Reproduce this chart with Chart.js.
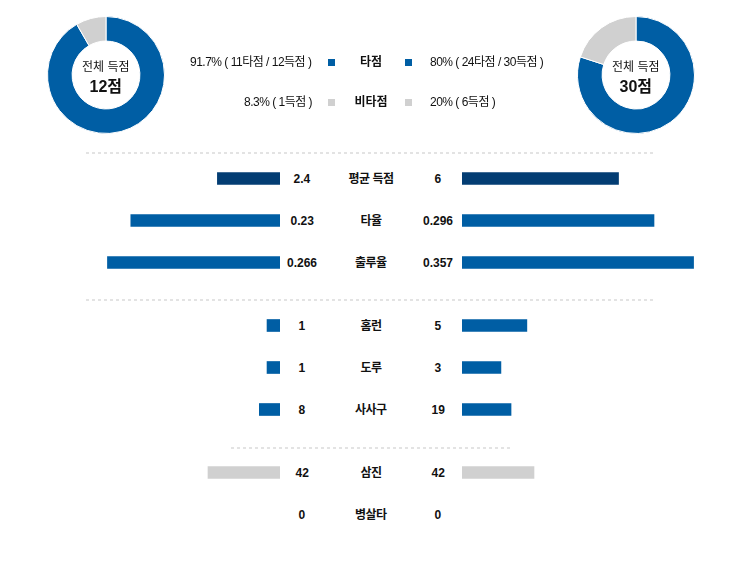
<!DOCTYPE html>
<html>
<head>
<meta charset="utf-8">
<script src="https://cdn.jsdelivr.net/npm/chart.js@4.4.1/dist/chart.umd.min.js"></script>
<style>
   body{margin:0;background:#fff;font-family:"Liberation Sans",Arial,"Noto Sans CJK KR",sans-serif;color:#111;}
   #wrap{position:relative;width:743px;height:569px;overflow:hidden;}
   .abs{position:absolute;}
   .txt{position:absolute;font-size:12px;white-space:nowrap;line-height:14px;}
   .bold{font-weight:bold;}
   .tight{letter-spacing:-0.5px;}
   .sq{position:absolute;width:7px;height:7px;}
   .dash{position:absolute;height:2px;background:repeating-linear-gradient(to right,#e3e3e3 0 3px,transparent 3px 6px);}
</style>
</head>
<body>
<div id="wrap">
   <canvas id="donutLeft" class="abs" style="left:47px;top:16px;width:118px;height:118px"></canvas>
   <canvas id="donutRight" class="abs" style="left:577px;top:16px;width:118px;height:118px"></canvas>
   <div class="abs" style="left:40px;top:168px;width:240px;height:357px"><canvas id="barsLeft"></canvas></div>
   <div class="abs" style="left:462px;top:168px;width:240px;height:357px"><canvas id="barsRight"></canvas></div>
</div>
<script>
// donut data (타점 / 비타점)
const donutLabels = ['타점', '비타점'];
const leftRuns = [11, 1];
const rightRuns = [24, 6];
const leftTotal = 12;
const rightTotal = 30;
const leftLegend = ['91.7% ( 11타점 / 12득점 )', '8.3% ( 1득점 )'];
const rightLegend = ['80% ( 24타점 / 30득점 )', '20% ( 6득점 )'];

// comparison rows
const statNames = ['평균 득점', '타율', '출루율', '홈런', '도루', '사사구', '삼진', '병살타'];
const leftValues = [2.4, 0.23, 0.266, 1, 1, 8, 42, 0];
const rightValues = [6, 0.296, 0.357, 5, 3, 19, 42, 0];
const leftLabels = ['2.4', '0.23', '0.266', '1', '1', '8', '42', '0'];
const rightLabels = ['6', '0.296', '0.357', '5', '3', '19', '42', '0'];
// each stat has its own scale max
const statMax = [9.2, 0.37, 0.37, 18.5, 18.5, 93, 140, 10];

const BLUE = '#005ea4';
const NAVY = '#033d73';
const GRAY = '#d0d0d0';
const statColors = [NAVY, BLUE, BLUE, BLUE, BLUE, BLUE, GRAY, GRAY];

// row slot on the category axis (21px per slot, blank slots between groups)
const rowSlots = [0, 2, 4, 7, 9, 11, 14, 16];
const SLOT_COUNT = 17;
const TOP = 168, SLOT_H = 21;

let wrap = document.getElementById('wrap');

function addText(text, x, y, align, cls){
   let el = document.createElement('div');
   el.className = 'txt ' + (cls || '');
   el.textContent = text;
   wrap.append(el);
   let w = el.offsetWidth;
   if(align == 'center') x = x - w / 2;
   else if(align == 'right') x = x - w;
   el.style.left = x + 'px';
   el.style.top = (y - 7) + 'px';
   return el;
}

function addSquare(x, y, color){
   let el = document.createElement('div');
   el.className = 'sq';
   el.style.left = x + 'px';
   el.style.top = (y - 3) + 'px';
   el.style.background = color;
   wrap.append(el);
}

function addDash(x1, x2, y){
   let el = document.createElement('div');
   el.className = 'dash';
   el.style.left = x1 + 'px';
   el.style.width = (x2 - x1) + 'px';
   el.style.top = y + 'px';
   wrap.append(el);
}

function constructDonut(id, data, total, cx){
   new Chart(document.getElementById(id), {
      type: 'doughnut',
      data: {
         labels: donutLabels,
         datasets: [{
            data: data,
            backgroundColor: [BLUE, GRAY],
            borderColor: '#fff',
            borderWidth: 1
         }]
      },
      options: {
         responsive: false,
         animation: false,
         cutout: '58%',
         plugins: {legend: {display: false}, tooltip: {enabled: false}}
      }
   });
   addText('전체 득점', cx, 67, 'center');
   let big = addText(total + '점', cx, 87, 'center', 'bold');
   big.style.fontSize = '16px';
   big.style.lineHeight = '18px';
   big.style.left = (cx - big.offsetWidth / 2) + 'px';
   big.style.top = (87 - 9) + 'px';
}

function constructBars(id, values, reverse){
   let labels = Array.from({length: SLOT_COUNT}, () => '');
   let scales = {
      y: {type: 'category', display: false, offset: true, grid: {display: false}}
   };
   let datasets = [];
   values.forEach((value, i) => {
      let row = Array.from({length: SLOT_COUNT}, () => null);
      //zero values get no bar at all
      row[rowSlots[i]] = value > 0 ? value : null;
      let axisID = 'x' + i;
      scales[axisID] = {type: 'linear', axis: 'x', display: false, min: 0, max: statMax[i], reverse: reverse};
      datasets.push({
         data: row,
         xAxisID: axisID,
         backgroundColor: statColors[i],
         barThickness: 12,
         grouped: false,
         borderWidth: 0
      });
   });
   new Chart(document.getElementById(id), {
      type: 'bar',
      data: {labels: labels, datasets: datasets},
      options: {
         indexAxis: 'y',
         responsive: true,
         maintainAspectRatio: false,
         animation: false,
         layout: {padding: 0},
         scales: scales,
         plugins: {legend: {display: false}, tooltip: {enabled: false}}
      }
   });
}

constructDonut('donutLeft', leftRuns, leftTotal, 106);
constructDonut('donutRight', rightRuns, rightTotal, 636);

// middle legend
const legendRows = [62, 102];
const legendColors = [BLUE, GRAY];
legendRows.forEach((y, i) => {
   addText(leftLegend[i], 312, y, 'right', 'tight');
   addSquare(328, y, legendColors[i]);
   addText(donutLabels[i], 371, y, 'center', 'bold');
   addSquare(405, y, legendColors[i]);
   addText(rightLegend[i], 430, y, 'left', 'tight');
});

constructBars('barsLeft', leftValues, true);
constructBars('barsRight', rightValues, false);

statNames.forEach((name, i) => {
   let y = TOP + SLOT_H * rowSlots[i] + SLOT_H / 2;
   addText(leftLabels[i], 302, y, 'center', 'bold');
   addText(name, 371, y, 'center', 'bold tight');
   addText(rightLabels[i], 438, y, 'center', 'bold');
});

addDash(86, 654, 152);
addDash(86, 654, 299);
addDash(231, 512, 447);
</script>
</body>
</html>
